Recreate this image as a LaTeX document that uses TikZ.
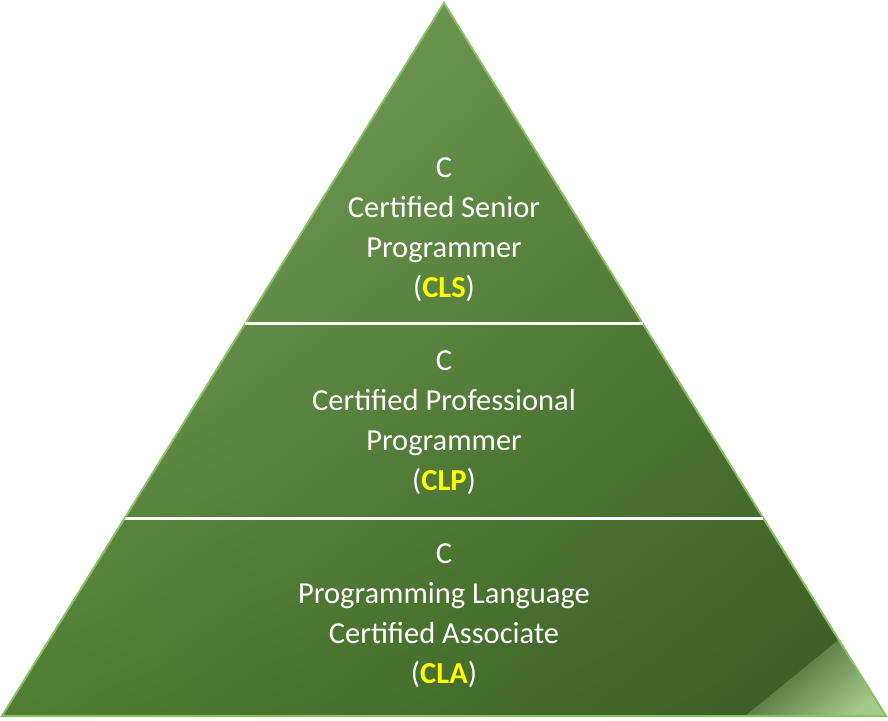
\documentclass[tikz,border=0pt]{standalone}
\usepackage{fontspec}
\setmainfont{Carlito}
\usepackage{xcolor}
\usetikzlibrary{calc,shadings}
\definecolor{pyrLight}{HTML}{86A96B}
\definecolor{pyrMid}{HTML}{4F7E31}
\definecolor{pyrDark}{HTML}{395A24}
\definecolor{pyrEdge}{HTML}{8CBF68}
\definecolor{pyrGlare}{HTML}{A4CA8A}
\definecolor{certYellow}{HTML}{FFFF00}
\tikzset{
    levellabel/.style={text=white, align=center, font=\fontsize{30.5}{40}\selectfont},
    divider/.style={white, line width=3pt}
}
\newcommand{\drawLevelLabel}[4]{
    \node[levellabel] (#1) at (444,#2) {C\\#3\\(\textcolor{certYellow}{\textbf{#4}})};
}

\begin{document}
\begin{tikzpicture}[x=1pt,y=-1pt]
            \useasboundingbox (0,0) rectangle (888,720);
            \coordinate (apex) at (444,3);
            \coordinate (bl) at (2,716);
            \coordinate (br) at (886,716);
            \shade[upper left=pyrLight, upper right=pyrMid, lower left=pyrMid, lower right=pyrDark] (apex) -- (br) -- (bl) -- cycle;
            % glare in the lower right corner
            \coordinate (g1) at ($(apex)!0.893!(br)$);
            \coordinate (g2) at (745,716);
            \shade[top color=pyrDark, bottom color=pyrGlare, shading angle=40] (g1) -- (br) -- (g2) -- cycle;
            \draw[pyrEdge, line width=2pt, line join=miter] (apex) -- (br) -- (bl) -- cycle;

            \coordinate (l1) at ($(apex)!0.450!(bl)$);
            \coordinate (r1) at ($(apex)!0.450!(br)$);
            \coordinate (l2) at ($(apex)!0.7223!(bl)$);
            \coordinate (r2) at ($(apex)!0.7223!(br)$);
            \draw[divider] (l1) -- (r1);
            \draw[divider] (l2) -- (r2);

            \drawLevelLabel{cls}{230}{Certified Senior\\Programmer}{CLS}
            \drawLevelLabel{clp}{423}{Certified Professional\\Programmer}{CLP}
            \drawLevelLabel{cla}{616}{Programming Language\\Certified Associate}{CLA}
\end{tikzpicture}
\end{document}
